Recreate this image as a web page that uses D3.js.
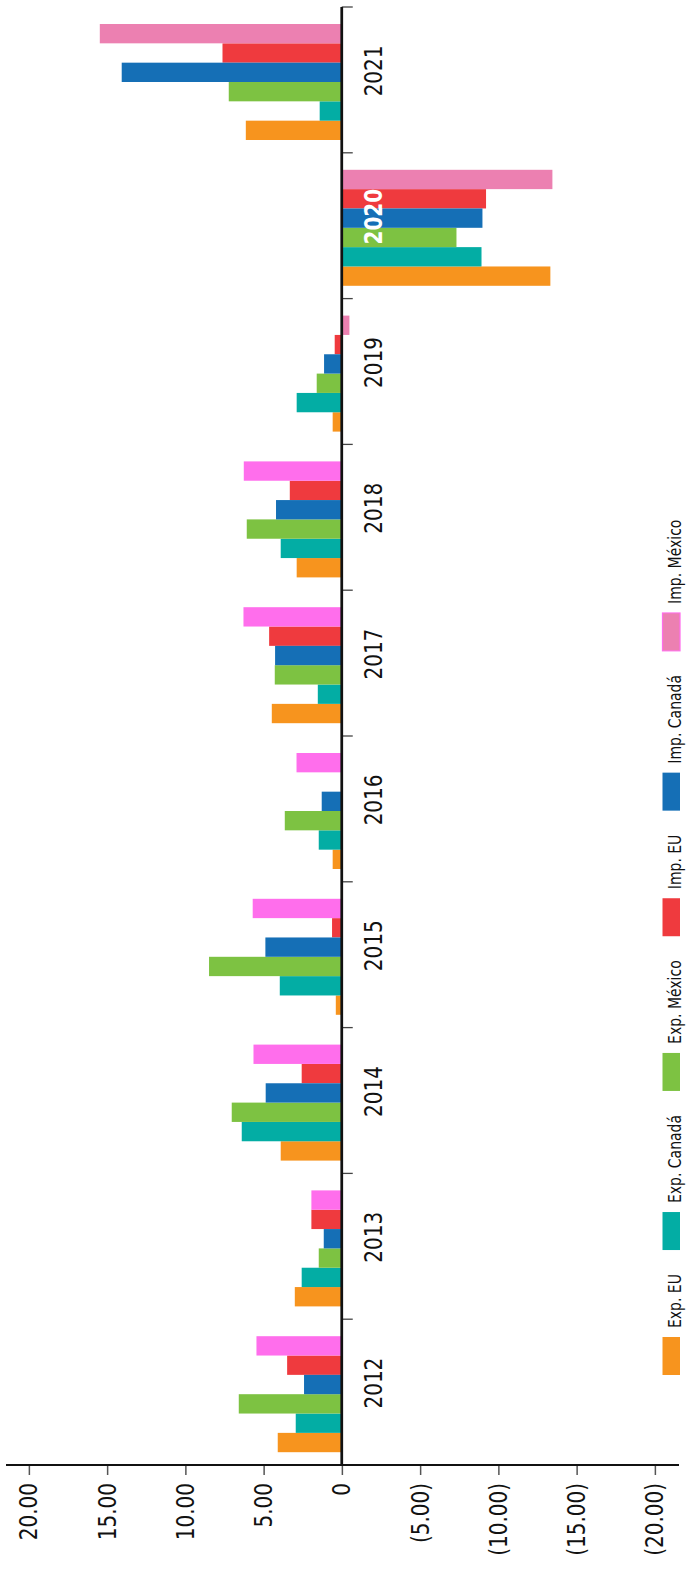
<!DOCTYPE html>
<html>
<head>
<meta charset="utf-8">
<script src="https://cdn.jsdelivr.net/npm/d3@7"></script>
<style>
  html, body { margin: 0; padding: 0; background: #ffffff; }
  svg { display: block; }
  text { font-family: "DejaVu Sans", Verdana, sans-serif; }
</style>
</head>
<body>
<div id="chart"></div>
<script>
// Annual variation by trade flow (percent), 2012–2021
const years = [2012, 2013, 2014, 2015, 2016, 2017, 2018, 2019, 2020, 2021];
const seriesNames = ["Exp. EU", "Exp. Canadá", "Exp. México", "Imp. EU", "Imp. Canadá", "Imp. México"];
// order of the bars inside each year group
const barOrder = ["Exp. EU", "Exp. Canadá", "Exp. México", "Imp. Canadá", "Imp. EU", "Imp. México"];
const expEU     = [4.09, 3.00, 3.90, 0.38, 0.58, 4.47, 2.88, 0.58, -13.33, 6.13];
const expCanada = [2.94, 2.56, 6.39, 3.96, 1.47, 1.53, 3.90, 2.88, -8.93, 1.41];
const expMexico = [6.58, 1.47, 7.03, 8.48, 3.64, 4.28, 6.07, 1.60, -7.33, 7.22];
const impEU     = [3.49, 1.94, 2.56, 0.62, 0.00, 4.64, 3.32, 0.45, -9.22, 7.62];
const impCanada = [2.41, 1.15, 4.86, 4.88, 1.28, 4.26, 4.20, 1.13, -8.99, 14.06];
const impMexico = [5.45, 1.94, 5.64, 5.69, 2.89, 6.28, 6.26, -0.49, -13.46, 15.46];
const valueTicks = [-20, -15, -10, -5, 0, 5, 10, 15, 20];

const seriesValues = [expEU, expCanada, expMexico, impEU, impCanada, impMexico];
const seriesColors = ["#f7941e", "#03ada4", "#7dc242", "#ef3a3e", "#156fb6", "#ec80b1"];
const brightPink = "#ff6eec";

// Page is 691 x 1574; the drawing is a column chart laid on its side,
// with the horizontal axis stretched slightly.
const pageW = 691, pageH = 1574;
const stretch = 1.25;
const W = pageH;               // length of the chart along the category axis
const H = pageW / stretch;     // length along the value axis

const svg = d3.select("#chart").append("svg")
  .attr("width", pageW)
  .attr("height", pageH)
  .attr("viewBox", `0 0 ${H} ${pageH}`)
  .attr("preserveAspectRatio", "none");

const g = svg.append("g").attr("transform", `translate(0,${W}) rotate(-90)`);

// Scales
const x0 = d3.scaleBand().domain(years).range([109, 1567]).padding(0);
const x1 = d3.scaleBand().domain(barOrder).range([12.8, 128.8]).padding(0);
const y = d3.scaleLinear().domain([-20, 20]).range([523.8, 23.0]);

const rows = [];
years.forEach((yr, i) => {
  seriesNames.forEach((s, j) => {
    rows.push({ year: yr, series: s, si: j, value: seriesValues[j][i] });
  });
});

function barColor(d) {
  if (d.si === 5 && d.year < 2019) return brightPink;
  return seriesColors[d.si];
}

// Bars
g.append("g").selectAll("rect")
  .data(rows)
  .join("rect")
  .attr("x", d => x0(d.year) + x1(d.series))
  .attr("width", x1.bandwidth())
  .attr("y", d => Math.min(y(d.value), y(0)))
  .attr("height", d => Math.abs(y(d.value) - y(0)))
  .attr("fill", barColor);

// Value axis (ticks and labels)
const fmt = v => v === 0 ? "0" : (v < 0 ? `(${d3.format(".2f")(-v)})` : d3.format(".2f")(v));
const yAxis = d3.axisLeft(y)
  .tickValues(valueTicks)
  .tickSize(10)
  .tickPadding(8)
  .tickFormat(fmt);

const yAxisG = g.append("g")
  .attr("transform", `translate(109,0)`)
  .call(yAxis);
yAxisG.select(".domain").remove();
yAxisG.selectAll(".tick line").attr("stroke", "#555").attr("stroke-width", 1.2);
yAxisG.selectAll(".tick text")
  .attr("font-size", 20)
  .attr("fill", "#111")
  .attr("font-family", "DejaVu Sans");

g.append("line")
  .attr("x1", 109).attr("x2", 109)
  .attr("y1", 4.8).attr("y2", 543.2)
  .attr("stroke", "#111").attr("stroke-width", 2);

// Category axis along the zero line
const bounds = years.map(yr => x0(yr)).concat([x0.range()[1]]);
g.append("g").selectAll("line")
  .data(bounds.slice(1))
  .join("line")
  .attr("x1", d => d).attr("x2", d => d)
  .attr("y1", y(0)).attr("y2", y(0) + 8.8)
  .attr("stroke", "#444").attr("stroke-width", 1.3);

g.append("line")
  .attr("x1", 109).attr("x2", x0.range()[1])
  .attr("y1", y(0)).attr("y2", y(0))
  .attr("stroke", "#111").attr("stroke-width", 2.2);

// Year labels
g.append("g").selectAll("text")
  .data(years)
  .join("text")
  .attr("x", d => x0(d) + x0.bandwidth() / 2 + 9)
  .attr("y", 306)
  .attr("text-anchor", "middle")
  .attr("font-size", 20)
  .attr("font-weight", d => d === 2020 ? "bold" : "normal")
  .attr("fill", d => d === 2020 ? "#ffffff" : "#111")
  .text(d => d);

// Legend
const legend = g.append("g");
let lx = 199;
seriesNames.forEach((s, j) => {
  legend.append("rect")
    .attr("x", lx).attr("y", 530)
    .attr("width", 38).attr("height", 14)
    .attr("fill", seriesColors[j])
    .attr("stroke", j === 5 ? brightPink : "none")
    .attr("stroke-width", 1);
  const t = legend.append("text")
    .attr("x", lx + 38 + 9)
    .attr("y", 545)
    .attr("font-size", 14)
    .attr("fill", "#111")
    .text(s);
  lx = lx + 38 + 9 + t.node().getComputedTextLength() + 24;
});
</script>
</body>
</html>
